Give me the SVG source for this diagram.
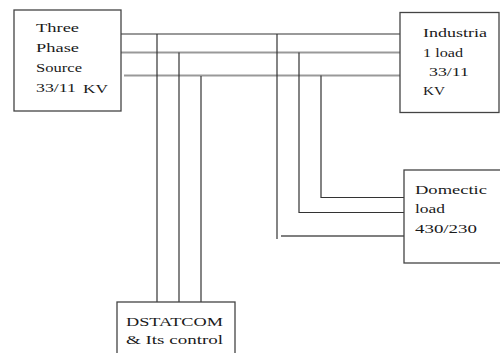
<svg xmlns="http://www.w3.org/2000/svg" width="500" height="353" viewBox="0 0 500 353">
<style>
.box{fill:#fff;stroke:#444;stroke-width:1.3}
.bus{stroke:#999;stroke-width:2;fill:none}
.v{stroke:#333;stroke-width:1.2;fill:none}
.f{stroke:#555;stroke-width:1.4;fill:none}
text{font-family:"Liberation Serif",serif;font-size:13px;fill:#1a1a1a}
</style>
<rect width="500" height="353" fill="#fff"/>
<g id="connectors">
<line class="bus" x1="121" y1="34" x2="400" y2="34"/>
<line class="bus" x1="121" y1="52.5" x2="400" y2="52.5"/>
<line class="bus" x1="124" y1="75.5" x2="400" y2="75.5"/>
<polyline class="v" points="157,34 157,302"/>
<polyline class="v" points="179,52.5 179,302"/>
<polyline class="v" points="201,76 201,302"/>
<polyline class="v" points="277,34 277,239"/>
<polyline class="v" points="299,52.5 299,212.5 404,212.5"/>
<polyline class="v" points="321,75.5 321,197.5 404,197.5"/>
<line class="f" x1="281" y1="236" x2="404" y2="236"/>
</g>
<g id="source">
<rect class="box" x="14" y="10" width="107" height="101"/>
<text x="36" y="32" textLength="43" lengthAdjust="spacingAndGlyphs">Three</text>
<text x="36" y="52" textLength="43" lengthAdjust="spacingAndGlyphs">Phase</text>
<text x="36" y="72" textLength="46" lengthAdjust="spacingAndGlyphs">Source</text>
<text x="36" y="92" textLength="40" lengthAdjust="spacingAndGlyphs">33/11</text>
<text x="83" y="93" textLength="25" lengthAdjust="spacingAndGlyphs">KV</text>
</g>
<g id="industrial">
<rect class="box" x="400" y="12.5" width="99" height="100"/>
<text x="423" y="37" textLength="64" lengthAdjust="spacingAndGlyphs">Industria</text>
<text x="423" y="57" textLength="40" lengthAdjust="spacingAndGlyphs">1 load</text>
<text x="429" y="76" textLength="40" lengthAdjust="spacingAndGlyphs">33/11</text>
<text x="423" y="95" textLength="22" lengthAdjust="spacingAndGlyphs">KV</text>
</g>
<g id="domestic">
<rect class="box" x="404" y="170" width="100" height="93"/>
<text x="415" y="194" textLength="72" lengthAdjust="spacingAndGlyphs">Domectic</text>
<text x="415" y="213" textLength="30" lengthAdjust="spacingAndGlyphs">load</text>
<text x="415" y="233" textLength="62" lengthAdjust="spacingAndGlyphs">430/230</text>
</g>
<g id="dstatcom">
<rect class="box" x="117" y="302" width="118" height="60"/>
<text x="126" y="326" textLength="97" lengthAdjust="spacingAndGlyphs">DSTATCOM</text>
<text x="126" y="344" textLength="97" lengthAdjust="spacingAndGlyphs">&amp; Its control</text>
</g>
</svg>
